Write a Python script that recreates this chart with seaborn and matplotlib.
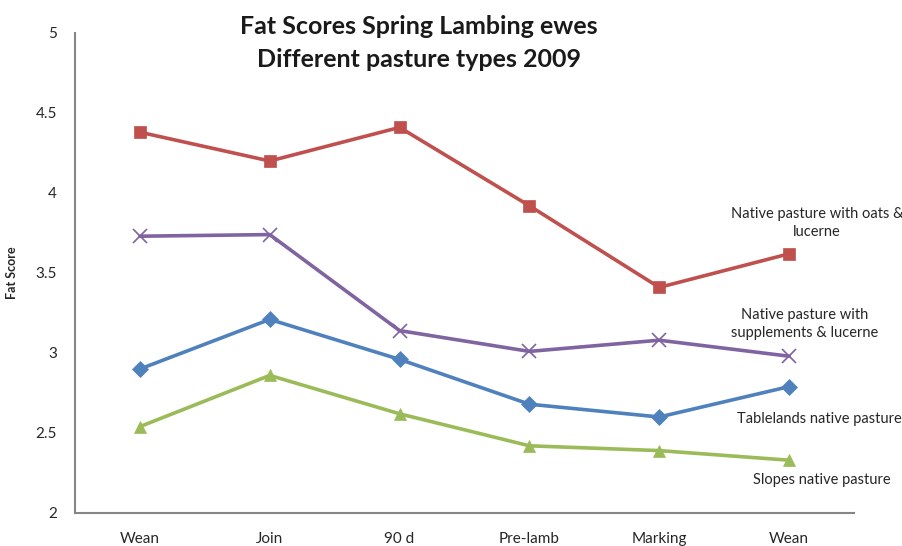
import matplotlib
matplotlib.use("Agg")
import matplotlib.pyplot as plt
import seaborn as sns
import pandas as pd
import numpy as np
from matplotlib.ticker import FixedLocator

categories = ["Wean", "Join", "90 d", "Pre-lamb", "Marking", "Wean"]
oats_lucerne = [4.38, 4.20, 4.41, 3.92, 3.41, 3.62]
supp_lucerne = [3.73, 3.74, 3.14, 3.01, 3.08, 2.98]
tablelands = [2.90, 3.21, 2.96, 2.68, 2.60, 2.79]
slopes = [2.54, 2.86, 2.62, 2.42, 2.39, 2.33]

series_names = ["Native pasture with oats &\nlucerne",
                "Native pasture with\nsupplements & lucerne",
                "Tablelands native pasture",
                "Slopes native pasture"]
series_vals = [oats_lucerne, supp_lucerne, tablelands, slopes]
colors = ["#C0504D", "#8064A2", "#4F81BD", "#9BBB59"]
markers = ["s", "x", "D", "^"]
msizes = [9, 10, 8, 9]

sns.set_theme(style="white")
plt.rcParams["font.family"] = ["Lato", "DejaVu Sans"]

fig = plt.figure(figsize=(9.02, 5.46), dpi=100)
ax = fig.add_axes([75/902, 1-513/546, (854-75)/902, (513-33)/546])

rows = []
for name, vals in zip(series_names, series_vals):
    for i, v in enumerate(vals):
        rows.append({"pos": i, "score": v, "series": name})
df = pd.DataFrame(rows)

for name, c, m, ms in zip(series_names, colors, markers, msizes):
    sub = df[df["series"] == name]
    sns.lineplot(data=sub, x="pos", y="score", ax=ax, color=c, marker=m,
                 markersize=ms, linewidth=2.6, markeredgecolor=c,
                 markeredgewidth=1.2 if m == "x" else 0.5, legend=False)

ax.set_xlim(-0.5, len(categories) - 0.5)
ax.set_ylim(2, 5)
ax.set_yticks(np.arange(2, 5.01, 0.5))
ax.set_yticklabels(["2", "2.5", "3", "3.5", "4", "4.5", "5"])
ax.set_xticks(range(len(categories)))
ax.set_xticklabels(categories)
ax.xaxis.set_minor_locator(FixedLocator(np.arange(-0.5, len(categories), 1.0)))
ax.tick_params(axis="x", which="major", length=0, pad=14, labelsize=11, labelcolor="#262626")
ax.tick_params(axis="x", which="minor", length=5, width=1.2, color="#868686", direction="out")
ax.tick_params(axis="y", which="major", length=5, width=1.2, color="#868686", direction="out",
               labelsize=11, labelcolor="#262626", pad=8)
for s in ["top", "right"]:
    ax.spines[s].set_visible(False)
for s in ["left", "bottom"]:
    ax.spines[s].set_color("#868686")
    ax.spines[s].set_linewidth(1.5)
ax.set_xlabel("")
ax.set_ylabel("Fat Score", fontsize=9, fontweight="bold", color="#262626")
ax.yaxis.set_label_coords((18 - 75) / 779, 0.5)

label_pos = [(5.215, 3.815), (5.12, 3.18), (5.23, 2.59), (5.25, 2.205)]
for name, (lx, ly) in zip(series_names, label_pos):
    ax.text(lx, ly, name, ha="center", va="center", fontsize=10.5, color="#262626",
            clip_on=False, linespacing=1.35)

fig.text(419/902, 1-43/546, "Fat Scores Spring Lambing ewes\nDifferent pasture types 2009",
         ha="center", va="center", fontsize=18, fontweight="bold", color="#1a1a1a",
         linespacing=1.55)

fig.savefig("out.png", dpi=100)
